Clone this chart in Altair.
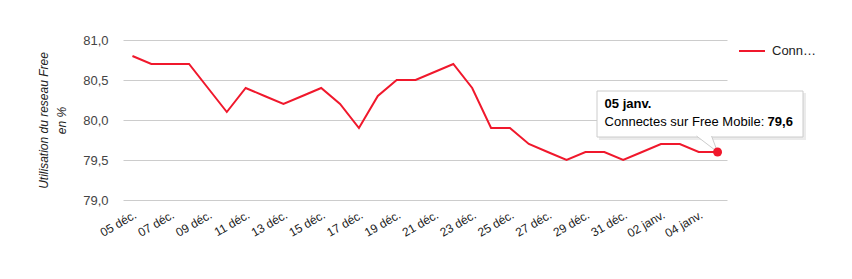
import altair as alt
import pandas as pd

labels = ["05 déc.", "06 déc.", "07 déc.", "08 déc.", "09 déc.", "10 déc.", "11 déc.", "12 déc.",
          "13 déc.", "14 déc.", "15 déc.", "16 déc.", "17 déc.", "18 déc.", "19 déc.", "20 déc.",
          "21 déc.", "22 déc.", "23 déc.", "24 déc.", "25 déc.", "26 déc.", "27 déc.", "28 déc.",
          "29 déc.", "30 déc.", "31 déc.", "01 janv.", "02 janv.", "03 janv.", "04 janv.", "05 janv."]
values = [80.8, 80.7, 80.7, 80.7, 80.4, 80.1, 80.4, 80.3,
          80.2, 80.3, 80.4, 80.2, 79.9, 80.3, 80.5, 80.5,
          80.6, 80.7, 80.4, 79.9, 79.9, 79.7, 79.6, 79.5,
          79.6, 79.6, 79.5, 79.6, 79.7, 79.7, 79.6, 79.6]
series_name = "Connectes sur Free Mobile"
y_ticks = [79.0, 79.5, 80.0, 80.5, 81.0]
shown_labels = labels[::2]

df = pd.DataFrame({"jour": labels, "valeur": values, "serie": series_name})
last = df.tail(1)

FONT = "Liberation Sans"
RED = "#f0182c"

x_enc = alt.X("jour:O", sort=labels,
              scale=alt.Scale(type="point", padding=0.5),
              axis=alt.Axis(title=None, values=shown_labels, labelAngle=-30, labelAlign="right",
                            labelBaseline="top", labelPadding=9, labelFontSize=12,
                            labelColor="#222222", ticks=False, domain=False, grid=False,
                            labelOverlap=False, labelFont=FONT))
y_enc = alt.Y("valeur:Q", scale=alt.Scale(domain=[79, 81], nice=False, zero=False),
              axis=alt.Axis(values=y_ticks, tickCount=5,
                            labelExpr="replace(format(datum.value, '.1f'), '.', ',')",
                            title=["Utilisation du reseau Free", "en %"], titleFontStyle="italic",
                            titleFontWeight="normal", titleFontSize=12, titleColor="#222222",
                            titleFont=FONT, titleX=-73, titleY=80, titleAngle=-90,
                            titleBaseline="bottom", titleAlign="center", titleLineHeight=18,
                            labelFontSize=13, labelColor="#444444", labelPadding=15,
                            labelOverlap=False, labelFont=FONT, ticks=False, domain=False,
                            grid=True, gridColor="#cccccc", gridWidth=1))

line = alt.Chart(df).mark_line(strokeWidth=2).encode(
    x=x_enc, y=y_enc,
    color=alt.Color("serie:N", scale=alt.Scale(range=[RED]),
                    legend=alt.Legend(title=None, orient="none", legendX=615, legendY=-3,
                                      symbolType="stroke", symbolSize=676, symbolStrokeWidth=2,
                                      labelFontSize=13, labelFont=FONT, labelColor="#222222",
                                      labelLimit=47, labelOffset=6))
)

shadow = alt.Chart(last).mark_rect(fill="#000000", opacity=0.08).encode(
    x=alt.value(476), x2=alt.value(683), y=alt.value(53), y2=alt.value(100))
box = alt.Chart(last).mark_rect(fill="white", stroke="#cccccc", strokeWidth=1).encode(
    x=alt.value(474), x2=alt.value(680), y=alt.value(51), y2=alt.value(97))
pointer = alt.Chart(last).mark_point(
    shape="M -1 -0.76 L 0 0 L -0.286 -0.76", size=1764, filled=False, fill="white",
    fillOpacity=1, stroke="#cccccc", strokeWidth=1, opacity=1
).encode(x=x_enc, y=y_enc)
dot = alt.Chart(last).mark_circle(size=80, color=RED, opacity=1).encode(x=x_enc, y=y_enc)

t_date = alt.Chart(last).mark_text(align="left", baseline="alphabetic", fontWeight="bold",
                                   fontSize=13, font=FONT, color="#000000", dx=-113, dy=-44).encode(
    x=x_enc, y=y_enc, text="jour:N")
t_lab = alt.Chart(last).mark_text(align="left", baseline="alphabetic",
                                  fontSize=13, font=FONT, color="#000000", dx=-113, dy=-26).encode(
    x=x_enc, y=y_enc, text=alt.value(series_name + ":"))
t_val = alt.Chart(last).transform_calculate(
    txt="replace(format(datum.valeur, '.1f'), '.', ',')"
).mark_text(align="left", baseline="alphabetic", fontWeight="bold",
            fontSize=13, font=FONT, color="#000000", dx=50, dy=-26).encode(
    x=x_enc, y=y_enc, text="txt:N")

chart = alt.layer(line, shadow, box, pointer, dot, t_date, t_lab, t_val).properties(
    width=604, height=160,
    autosize=alt.AutoSizeParams(type="none"),
    padding={"left": 123, "top": 40, "right": 125, "bottom": 79},
    background="white"
).configure_view(stroke=None).configure_axis(labelFont=FONT, titleFont=FONT)

chart.save("out.html", embed_options={"renderer": "svg", "actions": False})
